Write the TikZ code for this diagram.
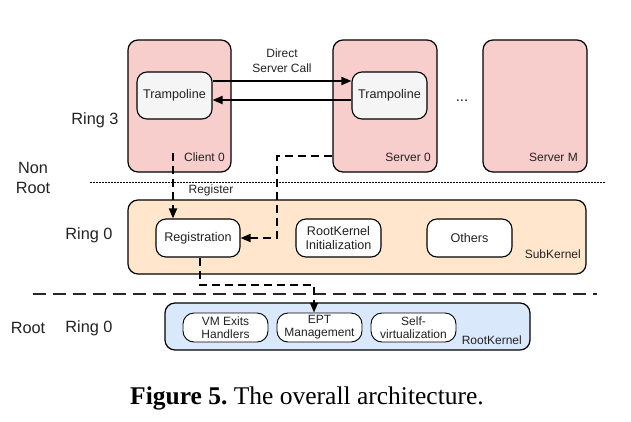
\documentclass[tikz,border=0pt]{standalone}
\usepackage{fontspec}
\setmainfont{Liberation Sans}
\newfontfamily\capfont{Liberation Serif}
\usetikzlibrary{arrows.meta,calc}
\frenchspacing
\definecolor{pinkfill}{HTML}{F8CECC}
\definecolor{tramfill}{HTML}{F5F5F5}
\definecolor{subfill}{HTML}{FFE6CC}
\definecolor{rootfill}{HTML}{DAE8FC}
\definecolor{txt}{HTML}{222222}
\begin{document}
\begin{tikzpicture}[x=1pt,y=-1pt,
  box/.style={draw=black,line width=1.2pt,rounded corners=10pt,inner sep=0pt},
  inbox/.style={draw=black,line width=1.1pt,rounded corners=10pt,inner sep=0pt,fill=white,align=center,
     font=\fontsize{12.6}{14}\selectfont,text=txt},
  rkbox/.style={draw=black,line width=0.9pt,rounded corners=11pt,inner sep=0pt,fill=white,align=center,
     font=\fontsize{12}{13}\selectfont,text=txt},
  lbl/.style={font=\fontsize{12}{14}\selectfont,text=txt,inner sep=0pt},
  side/.style={font=\fontsize{16.3}{20}\selectfont,text=txt,inner sep=0pt,align=center},
  solidarrow/.style={line width=1.8pt,-{Triangle[length=10pt,width=8pt]}},
  dasharrow/.style={line width=1.8pt,dash pattern=on 8pt off 5pt,-{Triangle[length=10pt,width=8pt]}}
]
\useasboundingbox (0,0) rectangle (631,421);

% ring 3 boxes
\node[box,fill=pinkfill,minimum width=103pt,minimum height=132pt] (c0) at (179.5,106) {};
\node[box,fill=pinkfill,minimum width=104pt,minimum height=132pt] (s0) at (385,106) {};
\node[box,fill=pinkfill,minimum width=104pt,minimum height=132pt] (sm) at (535,106) {};
\node[lbl,anchor=east] (c0l) at (225,157) {Client 0};
\node[lbl,anchor=east] (s0l) at (431,157) {Server 0};
\node[lbl,anchor=east] (sml) at (578,157) {Server M};

\node[inbox,fill=tramfill,minimum width=75pt,minimum height=47pt] (ct) at (174.5,95.5) {Trampoline};
\node[inbox,fill=tramfill,minimum width=75pt,minimum height=47pt] (st) at (389.5,95.5) {Trampoline};

\draw[solidarrow] ([yshift=14.5pt]ct.east) -- ([yshift=14.5pt]st.west);
\draw[solidarrow] ([yshift=-4.5pt]st.west) -- ([yshift=-4.5pt]ct.east);
\node[lbl,align=center,font=\fontsize{12}{15}\selectfont] (dsc) at (282,60.5) {Direct\\Server Call};
\node[lbl,font=\fontsize{15}{16}\selectfont] (dots) at (462,101) {...};

% side labels
\node[side] (r3) at (95,120) {Ring 3};
\node[side] (nr) at (33,178) {Non\\Root};
\node[side] (r0a) at (89,235) {Ring 0};
\node[side] (rt) at (28,328) {Root};
\node[side] (r0b) at (89,328) {Ring 0};

% separators
\draw[line width=0.9pt,dash pattern=on 1.5pt off 1.5pt] (90,182) -- (605,182);
\draw[line width=1.2pt,dash pattern=on 13pt off 7pt,draw=black!85] (33,294) -- (597,294);

% subkernel
\node[box,fill=subfill,minimum width=458pt,minimum height=74pt] (sk) at (357,237) {};
\node[lbl,anchor=east] (skl) at (581,254) {SubKernel};
\node[inbox,minimum width=84pt,minimum height=38pt] (reg) at (198,238) {Registration};
\node[inbox,minimum width=85pt,minimum height=38pt] (rki) at (338.5,238) {RootKernel\\Initialization};
\node[inbox,minimum width=85pt,minimum height=38pt] (oth) at (469.5,238) {Others};
\node[lbl] (regl) at (211,190) {Register};

% rootkernel
\node[box,fill=rootfill,minimum width=365pt,minimum height=47pt] (rk) at (347.5,326.5) {};
\node[lbl,anchor=east] (rkl) at (522,340) {RootKernel};
\node[rkbox,minimum width=85pt,minimum height=29pt] (vm) at (225.5,327.5) {VM Exits\\Handlers};
\node[rkbox,minimum width=85pt,minimum height=29pt] (ept) at (319.5,327.5) {EPT\\Management};
\node[rkbox,minimum width=85pt,minimum height=29pt] (sv) at (413.5,327.5) {Self-\\virtualization};

% dashed connectors
\coordinate (c1) at (173,153);
\draw[dasharrow] (c1) -- (c1 |- reg.north);
\coordinate (s1) at ([yshift=-50pt]s0.west);
\coordinate (b1) at (277,156);
\draw[dasharrow] (s1) -- (b1) |- (reg.east);
\coordinate (r2) at (314,285);
\draw[dasharrow] ([xshift=2pt]reg.south) |- (r2) -- (r2 |- ept.north);

% caption
\node[font=\capfont\fontsize{25.5}{28}\selectfont,anchor=base,inner sep=0pt] (cap) at (307,404)
  {\textbf{Figure 5.} The overall architecture.};
\end{tikzpicture}
\end{document}
